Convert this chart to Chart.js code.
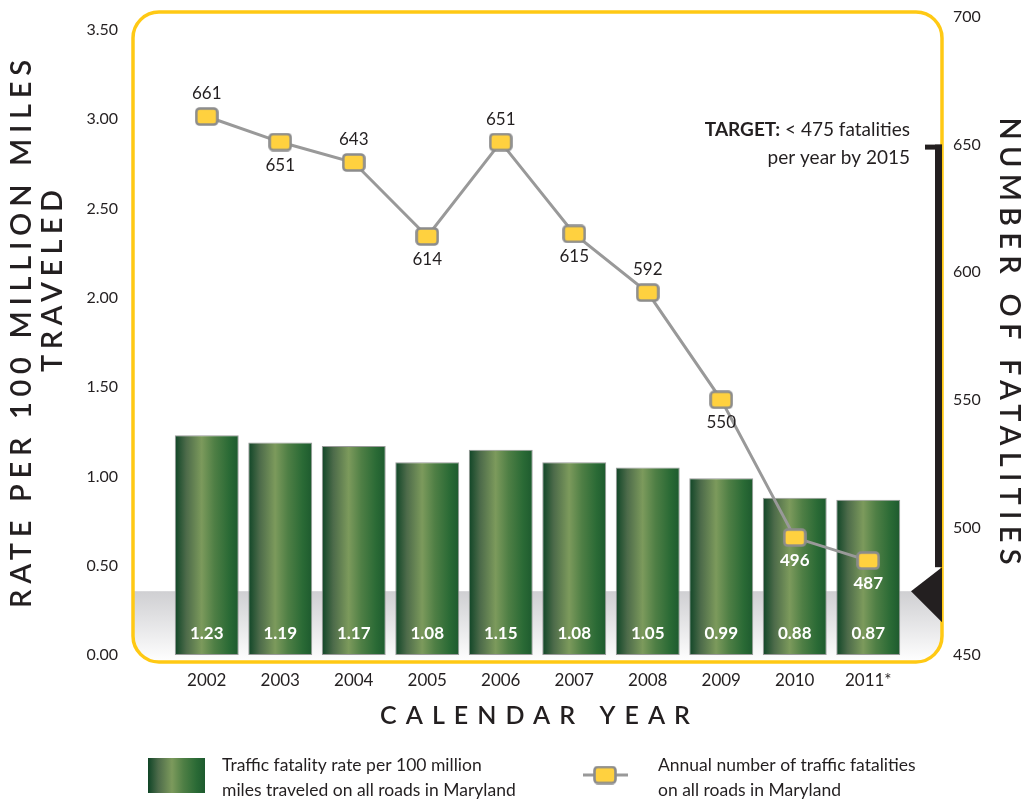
<!DOCTYPE html>
<html>
<head>
<meta charset="utf-8">
<script src="https://cdn.jsdelivr.net/npm/chart.js@4.4.1/dist/chart.umd.min.js"></script>
<style>
  html, body { margin: 0; padding: 0; background: #ffffff; }
  #wrap { width: 1029px; height: 803px; position: relative; }
</style>
</head>
<body>
<div id="wrap"><canvas id="chart" width="1029" height="803"></canvas></div>
<script>
// Calendar years on the x axis
const years = ['2002', '2003', '2004', '2005', '2006', '2007', '2008', '2009', '2010', '2011*'];
// Fatality rate per 100 million vehicle miles traveled (left axis)
const rates = [1.23, 1.19, 1.17, 1.08, 1.15, 1.08, 1.05, 0.99, 0.88, 0.87];
// Annual number of traffic fatalities (right axis)
const fatalities = [661, 651, 643, 614, 651, 615, 592, 550, 496, 487];
// Left and right axis tick values
const rateTicks = [0, 0.5, 1.0, 1.5, 2.0, 2.5, 3.0, 3.5];
const fatalityTicks = [450, 500, 550, 600, 650, 700];
// Target: fewer than 475 fatalities per year by 2015
const targetFatalities = 475;
const targetYear = 2015;

const INK = '#231f20';
const FRAME_YELLOW = '#ffc914';
const MARK_YELLOW = '#ffd13f';
const LINE_GRAY = '#999999';
const SANS = 'Lato, "Open Sans", sans-serif';

// Yellow rounded marker used for each point of the fatalities line
function makeMarker() {
  const c = document.createElement('canvas');
  c.width = 24; c.height = 19;
  const g = c.getContext('2d');
  g.beginPath();
  g.roundRect(1.5, 1.5, 21, 16, 3.5);
  g.fillStyle = MARK_YELLOW;
  g.fill();
  g.lineWidth = 2.6;
  g.strokeStyle = '#8c8c8c';
  g.stroke();
  return c;
}
const marker = makeMarker();

// Horizontal green cylinder-like shading for a bar spanning x0..x1
function barGradient(g, x0, x1) {
  const gr = g.createLinearGradient(x0, 0, x1, 0);
  gr.addColorStop(0.00, '#0f4526');
  gr.addColorStop(0.18, '#4d6b4a');
  gr.addColorStop(0.42, '#7c9a5c');
  gr.addColorStop(0.62, '#4f7f45');
  gr.addColorStop(0.85, '#2a6a35');
  gr.addColorStop(1.00, '#1d5a2e');
  return gr;
}

// Rounded frame around the plot
function frameRect(area) {
  return { l: area.left - 37, t: area.top - 5, r: area.right + 37, b: area.bottom + 7, rad: 26 };
}
function framePath(g, f) {
  g.beginPath();
  g.roundRect(f.l, f.t, f.r - f.l, f.b - f.t, f.rad);
}

// Draws text with extra letter spacing so that it spans `span` pixels
function spacedText(g, text, x, y, span, font) {
  g.save();
  g.font = font;
  g.letterSpacing = '0px';
  const w = g.measureText(text).width;
  const ls = (span - w) / (text.length - 1);
  g.letterSpacing = ls + 'px';
  g.textAlign = 'left';
  g.textBaseline = 'middle';
  g.fillText(text, x - span / 2, y);
  g.restore();
}

const backdropPlugin = {
  id: 'backdrop',
  beforeDatasetsDraw(chart) {
    const g = chart.ctx;
    const f = frameRect(chart.chartArea);
    const yTarget = chart.scales.y1.getPixelForValue(targetFatalities);
    g.save();
    framePath(g, f);
    g.clip();
    const gr = g.createLinearGradient(0, yTarget, 0, f.b);
    gr.addColorStop(0, '#cfcfd2');
    gr.addColorStop(1, '#ffffff');
    g.fillStyle = gr;
    g.fillRect(f.l, yTarget, f.r - f.l, f.b - yTarget);
    g.restore();
  },
  afterDatasetsDraw(chart) {
    const g = chart.ctx;
    const area = chart.chartArea;
    const f = frameRect(area);
    const y1 = chart.scales.y1;

    // frame
    g.save();
    framePath(g, f);
    g.lineWidth = 3.5;
    g.strokeStyle = FRAME_YELLOW;
    g.stroke();
    g.restore();

    // target bracket on the right edge
    const yTop = y1.getPixelForValue(650);
    const yT = y1.getPixelForValue(targetFatalities);
    g.save();
    g.fillStyle = '#231f20';
    g.fillRect(f.r - 17, yTop, 17, 5);
    g.fillRect(f.r - 7, yTop, 7, yT - 24 - yTop);
    g.beginPath();
    g.moveTo(f.r, yT - 24);
    g.lineTo(f.r - 31, yT);
    g.lineTo(f.r, yT + 31);
    g.closePath();
    g.fill();
    g.restore();

    // target note
    g.save();
    g.fillStyle = INK;
    g.textBaseline = 'alphabetic';
    g.textAlign = 'left';
    const rx = f.r - 32;
    const boldPart = 'TARGET:';
    const restPart = ' < ' + targetFatalities + ' fatalities';
    g.font = 'bold 19px ' + SANS;
    const wb = g.measureText(boldPart).width;
    g.font = '19px ' + SANS;
    const wr = g.measureText(restPart).width;
    g.font = 'bold 19px ' + SANS;
    g.fillText(boldPart, rx - wb - wr, yTop - 9);
    g.font = '19px ' + SANS;
    g.fillText(restPart, rx - wr, yTop - 9);
    g.textAlign = 'right';
    g.fillText('per year by ' + targetYear, rx, yTop + 19);
    g.restore();

    // bar value labels
    const barMeta = chart.getDatasetMeta(0);
    g.save();
    g.font = 'bold 17px ' + SANS;
    g.fillStyle = '#ffffff';
    g.textAlign = 'center';
    g.textBaseline = 'middle';
    barMeta.data.forEach((bar, i) => {
      g.fillText(rates[i].toFixed(2), bar.x, area.bottom - 21);
    });
    g.restore();

    // line value labels
    const lineMeta = chart.getDatasetMeta(1);
    const below = [false, true, false, true, false, true, false, true, true, true];
    g.save();
    g.textAlign = 'center';
    g.textBaseline = 'middle';
    lineMeta.data.forEach((pt, i) => {
      const onBar = i >= 8;
      g.font = (onBar ? 'bold ' : '') + '17px ' + SANS;
      g.fillStyle = onBar ? '#ffffff' : INK;
      g.fillText(String(fatalities[i]), pt.x, pt.y + (below[i] ? 23 : -23));
    });
    g.restore();
  },
  afterDraw(chart) {
    const g = chart.ctx;
    g.save();
    g.fillStyle = INK;
    // left axis title (two lines)
    g.save();
    g.translate(22, 334);
    g.rotate(-Math.PI / 2);
    spacedText(g, 'RATE PER 100 MILLION MILES', 0, 0, 548, '600 29px ' + SANS);
    g.restore();
    g.save();
    g.translate(53, 281);
    g.rotate(-Math.PI / 2);
    spacedText(g, 'TRAVELED', 0, 0, 182, '600 29px ' + SANS);
    g.restore();
    // right axis title
    g.save();
    g.translate(1009, 341);
    g.rotate(Math.PI / 2);
    spacedText(g, 'NUMBER OF FATALITIES', 0, 0, 447, '600 29px ' + SANS);
    g.restore();
    // x axis title
    spacedText(g, 'CALENDAR YEAR', 535, 716, 310, '600 25px ' + SANS);

    // legend
    const sx = 148, sy = 758, sw = 57, sh = 35;
    g.fillStyle = barGradient(g, sx, sx + sw);
    g.fillRect(sx, sy, sw, sh);
    g.fillStyle = INK;
    g.font = '17.5px ' + SANS;
    g.textAlign = 'left';
    g.textBaseline = 'middle';
    g.fillText('Traffic fatality rate per 100 million', 222, 765);
    g.fillText('miles traveled on all roads in Maryland', 222, 790);
    g.strokeStyle = LINE_GRAY;
    g.lineWidth = 3;
    g.beginPath();
    g.moveTo(583, 775);
    g.lineTo(628, 775);
    g.stroke();
    g.drawImage(marker, 605 - marker.width / 2, 775 - marker.height / 2);
    g.fillText('Annual number of traffic fatalities', 658, 765);
    g.fillText('on all roads in Maryland', 658, 790);
    g.restore();
  }
};

const LEFT_W = 170, RIGHT_W = 124, TOP_PAD = 17, BOTTOM_H = 148;
// left axis stretched so that 3.50 sits a little below the top of the plot
const leftMax = 3.5 * (803 - BOTTOM_H - TOP_PAD) / (803 - BOTTOM_H - 30);

// fixed axis widths; tick padding must not push the plot area down
function fixVertical(width) {
  return s => { s.width = width; s.paddingTop = 0; s.paddingBottom = 0; };
}

new Chart(document.getElementById('chart'), {
  data: {
    labels: years,
    datasets: [
      {
        type: 'bar',
        label: 'Traffic fatality rate per 100 million miles traveled on all roads in Maryland',
        data: rates,
        yAxisID: 'y',
        order: 2,
        barPercentage: 0.87,
        categoryPercentage: 1.0,
        borderWidth: 1,
        borderColor: '#9a9a9a',
        borderSkipped: false,
        backgroundColor(ctx) {
          const chart = ctx.chart;
          const xs = chart.scales.x;
          if (!chart.chartArea || !xs || ctx.dataIndex === undefined) return '#2f6b3a';
          const cx = xs.getPixelForValue(ctx.dataIndex);
          const half = (xs.getPixelForValue(1) - xs.getPixelForValue(0)) * 0.87 / 2;
          return barGradient(chart.ctx, cx - half, cx + half);
        }
      },
      {
        type: 'line',
        label: 'Annual number of traffic fatalities on all roads in Maryland',
        data: fatalities,
        yAxisID: 'y1',
        order: 1,
        borderColor: LINE_GRAY,
        borderWidth: 3,
        tension: 0,
        pointStyle: marker,
        pointRadius: 10,
        pointHoverRadius: 10
      }
    ]
  },
  options: {
    responsive: false,
    devicePixelRatio: 1,
    animation: false,
    events: [],
    layout: { padding: { top: TOP_PAD, left: 0, right: 0, bottom: 0 } },
    plugins: { legend: { display: false }, tooltip: { enabled: false } },
    scales: {
      x: {
        type: 'category',
        offset: true,
        grid: { display: false, drawTicks: false },
        border: { display: false },
        ticks: { color: INK, font: { family: SANS, size: 17 }, padding: 15, maxRotation: 0 },
        afterFit(s) { s.height = BOTTOM_H; s.paddingLeft = 0; s.paddingRight = 0; }
      },
      y: {
        position: 'left',
        min: 0,
        max: leftMax,
        grid: { display: false, drawTicks: false },
        border: { display: false },
        afterBuildTicks(s) { s.ticks = rateTicks.map(v => ({ value: v })); },
        ticks: {
          color: INK,
          font: { family: SANS, size: 16 },
          padding: 52,
          callback: v => Number(v).toFixed(2)
        },
        afterFit: fixVertical(LEFT_W)
      },
      y1: {
        position: 'right',
        min: 450,
        max: 700,
        grid: { display: false, drawTicks: false },
        border: { display: false },
        afterBuildTicks(s) { s.ticks = fatalityTicks.map(v => ({ value: v })); },
        ticks: { color: INK, font: { family: SANS, size: 16 }, padding: 48 },
        afterFit: fixVertical(RIGHT_W)
      }
    }
  },
  plugins: [backdropPlugin]
});
</script>
</body>
</html>
